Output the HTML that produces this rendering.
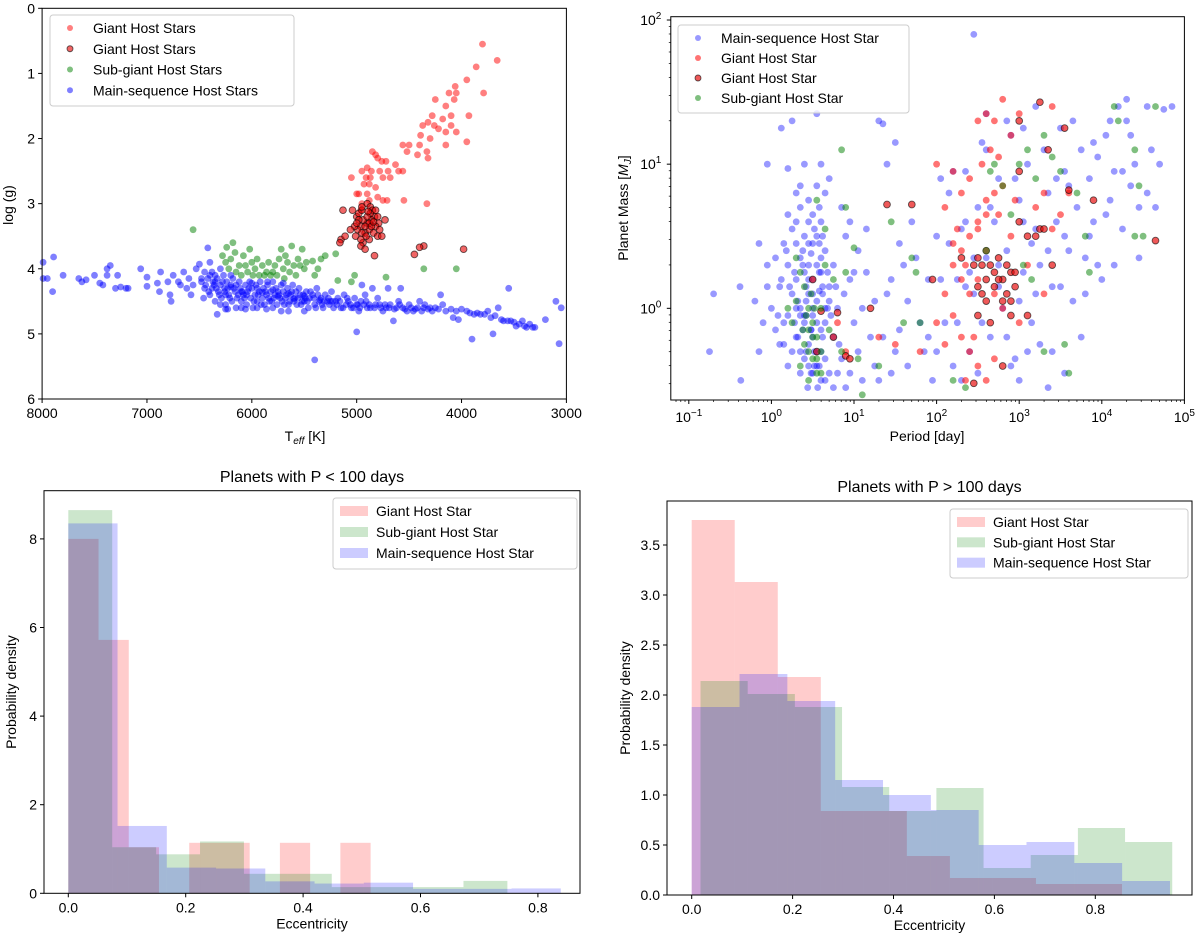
<!DOCTYPE html>
<html><head><meta charset="utf-8"><style>
html,body{margin:0;padding:0;background:#fff}
svg{display:block;font-family:"Liberation Sans","DejaVu Sans",sans-serif}
</style></head><body>
<svg id="fig" width="1200" height="943" viewBox="0 0 1200 943" xmlns="http://www.w3.org/2000/svg"></svg>
<script>
// ---------- Panel 1: HR diagram (Teff, logg) ----------
const p1RedTeff=[3800,3660,3860,3950,4060,4120,4050,4070,4250,3790,4150,4100,3930,4280,4320,4180,4100,4220,4260,4370,4150,4050,4300,4390,4400,3950,4500,4560,4150,4330,4420,4520,4320,4630,4760,4800,4720,4850,4820,4900,4860,4950,4780,4700,4560,4600,4910,4870,4750,4680,4930,4880,4820,5050,4980,5000,4900,4800,4750,4710,4950,4550,4330,4880,4960];
const p1RedLogg=[0.55,0.8,0.9,1.1,1.2,1.3,1.3,1.4,1.4,1.3,1.5,1.65,1.65,1.65,1.75,1.7,1.8,1.85,1.8,1.8,1.9,1.9,2.0,1.95,2.1,2.05,2.1,2.1,2.1,2.2,2.25,2.2,2.3,2.4,2.35,2.3,2.35,2.2,2.25,2.45,2.5,2.5,2.5,2.5,2.5,2.5,2.6,2.6,2.6,2.6,2.7,2.7,2.75,2.6,2.85,2.85,2.85,2.9,2.95,2.95,3.0,2.95,3.0,2.95,3.1];
const p1DarkTeff=[5130,5040,5000,4980,4950,4900,4870,4850,4830,4800,4790,4820,4860,4900,4940,4960,4990,5020,5060,5010,4920,4880,4840,4800,4760,4730,4940,4960,4920,5150,5110,5160,4880,4830,4450,4360,4400,3980,4950,4870,4900,4880,4920,4860,4840,4950,4980,4820,4780,4890,4960,5000,4910];
const p1DarkLogg=[3.1,3.1,3.2,3.15,3.1,3.0,3.05,3.1,3.2,3.2,3.3,3.35,3.25,3.3,3.25,3.35,3.4,3.35,3.4,3.5,3.45,3.4,3.45,3.5,3.5,3.25,3.6,3.65,3.7,3.55,3.5,3.6,3.55,3.8,3.78,3.65,3.67,3.7,3.05,3.15,3.2,3.3,3.35,3.35,3.28,3.45,3.25,3.1,3.4,3.12,3.55,3.3,3.5];
const p1GreenTeff=[6560,6280,6250,6240,6220,6200,6180,6160,6150,6120,6100,6080,6060,6040,6020,6000,5990,5970,5950,5930,5900,5880,5860,5840,5820,5800,5780,5760,5740,5720,5700,5690,5680,5660,5640,5620,5600,5580,5560,5540,5520,5500,5480,5420,5400,5370,5340,5300,5200,5180,5020,5050,4720,4360,4050];
const p1GreenLogg=[3.4,3.8,3.9,3.67,4.0,3.85,3.6,3.75,4.05,3.95,4.1,3.8,3.95,4.05,3.7,3.9,4.1,4.0,3.85,4.1,3.95,4.1,4.05,3.9,4.1,4.05,3.95,4.1,3.85,3.7,4.0,4.15,3.8,3.9,4.05,3.65,3.95,4.1,3.85,3.95,3.7,4.0,3.9,3.88,4.1,4.0,3.85,3.8,3.77,4.18,4.1,4.2,4.13,4.0,4.0];
const p1BlueTeff=[7990,7990,7950,7900,7890,7800,7650,7620,7580,7500,7450,7420,7380,7350,7380,7300,7280,7250,7200,7180,7060,7000,7000,6900,6870,6880,6800,6780,6770,6750,6700,6680,6650,6620,6600,6580,6560,6530,6500,6480,6460,6420,6400,6400,6380,6350,6330,6300,6300,6250,6230,6200,
6450,6450,6420,6400,6380,6360,6350,6330,6320,6300,6290,6270,6260,6250,6240,6220,6200,6190,6180,6160,6150,6140,6120,6110,6100,6080,6060,6050,6040,6020,6010,6000,5990,5970,5960,5950,5930,5920,5900,5890,5880,5860,5850,5830,5820,5800,5790,5770,5760,5740,5720,5710,5700,5680,5660,5650,5630,5610,5600,5580,5560,5550,5530,5510,5500,5480,5460,5450,5420,5400,5380,5360,5340,5320,5300,5280,5260,5240,5220,5200,5180,5150,5120,5100,5080,5050,5020,5000,4980,4960,4950,4920,4900,4880,4850,4830,4800,4780,4750,4720,4700,4680,4650,4620,4600,4580,4560,4520,4500,4460,4420,4400,4380,4350,4300,4280,4200,4180,4150,4100,4080,4050,4030,4000,3950,3920,3900,3880,3850,3820,3780,3750,3720,3700,3680,3650,3620,3600,3560,3550,3530,3500,3480,3450,3420,3400,3380,3350,3320,3300,3200,3100,3070,3050,5400,5000,5720,5860,6060,6250,
6100,5950,5800,5650,5500,6200,6050,5900,5750,5600,5350,5250,
6480,6440,6410,6370,6340,6310,6280,6260,6230,6210,6170,6130,6090,6070,6030,5980,5940,5910,5870,5840,5810,5780,5750,5730,5690,5670,5640,5620,5590,5570,5540,5520,5490,5470,5440,5410,5390,5370,5330,5310,5270,5230,5190,5160,5130,5090,5060,5030,4990,4970,4930,4910,4870,4820,4770,4730,4690,4640,4590,4540,4480,4440,4360,4320,4250,4220,6150,6000,5850,5700,6350,6100,5950,5800,5650,5500];
const p1BlueLogg=[3.9,4.15,4.15,4.35,3.82,4.1,4.15,4.2,4.17,4.1,4.22,4.25,4.0,3.95,4.1,4.3,4.1,4.28,4.3,4.3,4.0,4.13,4.27,4.22,4.05,4.35,4.2,4.4,4.5,4.1,4.2,4.25,4.05,4.3,4.15,4.4,4.25,4.0,3.93,4.2,4.45,3.68,3.9,4.1,4.3,4.2,4.7,4.55,4.0,4.4,4.62,4.1,
4.05,4.3,4.15,4.4,4.05,4.25,4.5,4.15,4.35,4.25,4.45,4.1,4.3,4.55,4.2,4.4,4.25,4.5,4.15,4.35,4.6,4.45,4.2,4.3,4.5,4.4,4.25,4.55,4.35,4.2,4.45,4.3,4.6,4.4,4.25,4.5,4.35,4.2,4.45,4.3,4.55,4.4,4.25,4.5,4.35,4.2,4.45,4.3,4.55,4.4,4.25,4.5,4.35,4.45,4.3,4.55,4.4,4.25,4.5,4.35,4.45,4.3,4.55,4.4,4.5,4.35,4.6,4.45,4.4,4.55,4.3,4.5,4.45,4.6,4.4,4.5,4.55,4.35,4.6,4.5,4.45,4.6,4.4,4.55,4.5,4.6,4.45,4.55,4.65,4.5,4.25,4.4,4.6,4.55,4.3,4.6,4.45,4.55,4.65,4.6,4.3,4.55,4.8,4.6,4.5,4.3,4.6,4.65,4.55,4.65,4.6,4.5,4.65,4.55,4.6,4.65,4.4,4.55,4.65,4.62,4.75,4.65,4.78,4.62,4.65,4.68,5.08,4.7,4.68,4.7,4.7,4.65,4.75,5.0,4.72,4.6,4.78,4.8,4.8,4.3,4.8,4.82,4.88,4.85,4.8,4.88,4.9,4.85,4.9,4.9,4.78,4.5,5.15,4.6,5.4,4.97,4.65,4.62,4.62,4.62,
4.35,4.3,4.32,4.38,4.42,4.28,4.4,4.36,4.42,4.46,4.48,4.5,
4.15,4.25,4.35,4.2,4.3,4.4,4.2,4.35,4.3,4.45,4.3,4.4,4.35,4.45,4.3,4.5,4.4,4.55,4.35,4.45,4.5,4.4,4.35,4.45,4.55,4.4,4.5,4.35,4.45,4.55,4.4,4.5,4.45,4.5,4.35,4.45,4.6,4.4,4.55,4.5,4.45,4.5,4.55,4.5,4.6,4.45,4.55,4.6,4.55,4.6,4.55,4.5,4.6,4.55,4.6,4.55,4.6,4.62,4.55,4.62,4.6,4.62,4.6,4.62,4.6,4.62,4.25,4.22,4.2,4.22,4.1,4.6,4.6,4.6,4.65,4.65];

// ---------- Panel 2: Period vs planet mass (log10 values) ----------
const p2BlueLogP=[0.3,0.35,0.4,0.45,0.5,0.55,0.6,0.65,0.7,0.4,0.5,0.55,0.6,0.7,0.45,0.35,0.25,0.2,0.3,0.45,0.5,0.6,0.65,0.55,0.4,0.3,0.2,0.1,0.15,0.25,0.35,0.75,0.8,0.85,0.75,0.6,0.5,0.45,0.55,0.35,0.25,0.15,0.05,0.0,-0.05,-0.1,0.1,0.2,0.65,0.75,0.9,0.95,1.0,0.9,0.85,0.7,0.6,0.4,0.2,-0.05,0.35,0.65,0.5,0.42,0.38,0.52,0.62,0.58,0.48,0.32,0.28,0.44,0.56,0.8,0.12,0.25,0.55,1.3,1.35,1.4,1.5,-0.7,-0.38,-0.75,-0.37,-0.15,-0.2,-0.05,0.95,1.05,1.15,1.1,1.2,1.05,1.25,1.3,1.45,1.4,1.5,1.55,1.6,1.7,1.75,1.8,1.65,1.85,1.9,
2.0,2.1,2.15,2.2,2.25,2.3,2.35,2.4,2.45,2.5,2.55,2.6,2.65,2.7,2.75,2.8,2.85,2.9,2.95,3.0,3.05,3.1,3.15,3.2,3.25,3.3,3.35,3.4,3.45,3.5,3.55,3.6,3.65,3.7,3.75,3.8,3.85,3.9,3.95,4.0,4.05,4.1,4.15,4.2,4.25,4.3,4.35,4.4,4.45,4.55,4.6,4.7,4.85,2.45,2.05,2.5,3.0,3.35,2.2,2.6,3.2,2.4,2.75,3.6,3.8,1.95,2.3,3.55,0.48,0.58,0.38,0.42,0.52,0.62,0.32,0.68,
0.3,0.35,0.4,0.45,0.5,0.55,0.6,0.65,0.4,0.45,0.5,0.55,0.6,0.65,0.38,0.42,0.48,0.52,0.58,0.62,0.68,0.72,0.28,0.22,0.18,0.12,0.08,0.3,0.35,0.45,0.55,0.5,0.42,0.48,0.58,0.62,0.7,0.78,0.82,0.88,0.95,1.0,1.1,1.15,1.25,1.35,1.45,1.55,1.65,1.9,0.2,0.3,0.45,0.58,0.15,0.05,-0.15,
2.05,2.15,2.25,2.35,2.45,2.55,2.65,2.75,2.85,2.95,3.05,3.15,3.25,3.35,3.45,3.55,3.65,3.75,3.85,3.95,4.05,4.15,4.25,4.35,4.45,4.55,4.65,3.0,3.1,2.9,3.2,3.4,2.6,2.85,3.05,3.5,3.9,4.1,4.3,4.75,2.0,2.35];
const p2BlueLogM=[0.2,0.0,-0.1,0.1,-0.2,0.05,-0.3,-0.1,0.15,-0.35,-0.45,-0.4,-0.5,-0.45,0.3,0.35,0.1,-0.05,-0.2,-0.25,0.2,0.25,0.4,0.5,0.5,0.45,0.3,0.15,-0.1,-0.3,-0.45,-0.2,0.0,-0.35,0.3,0.6,0.65,0.75,0.85,0.7,0.55,0.45,0.35,0.0,0.15,-0.1,-0.25,-0.4,-0.5,-0.55,-0.55,0.2,-0.1,0.5,0.7,0.9,1.0,1.0,0.97,1.0,0.85,0.8,-0.05,0.05,-0.15,-0.3,-0.2,0.12,0.38,0.05,-0.1,-0.55,-0.55,-0.45,1.25,1.3,1.35,1.3,1.28,1.0,1.15,0.1,0.15,-0.3,-0.5,-0.3,0.05,0.3,0.6,0.4,0.25,0.0,-0.2,-0.3,-0.4,-0.5,-0.45,0.1,-0.3,-0.15,0.3,0.6,0.35,-0.1,-0.4,-0.3,0.2,
0.5,-0.1,0.8,-0.4,0.2,0.55,0.95,-0.3,0.1,0.7,1.15,0.35,-0.2,0.6,0.9,0.0,0.4,1.2,-0.35,0.75,0.25,1.0,-0.1,0.55,0.3,1.1,0.8,-0.3,0.6,0.15,0.95,0.4,1.3,0.7,-0.2,0.35,0.9,0.6,1.05,0.2,1.2,0.75,0.95,1.4,0.55,1.3,0.85,1.0,0.7,1.4,1.1,1.0,1.4,1.9,0.9,-0.45,-0.5,-0.55,0.95,1.1,1.4,0.25,0.3,0.85,0.1,-0.5,-0.5,-0.45,-0.15,0.25,0.3,-0.05,-0.4,0.1,-0.2,0.0,
0.0,-0.3,0.25,-0.4,0.45,-0.1,0.35,0.0,-0.05,0.2,0.1,0.3,-0.15,-0.35,0.4,-0.3,-0.15,0.55,0.45,0.15,0.25,-0.05,0.25,0.15,0.4,0.2,-0.05,0.6,-0.05,0.6,-0.3,0.0,0.15,-0.45,-0.4,0.5,0.05,0.15,-0.25,0.1,-0.45,0.25,-0.5,0.55,0.05,-0.2,0.2,0.45,0.05,-0.2,0.65,0.8,0.45,0.7,-0.25,-0.15,0.45,
0.2,0.45,-0.1,0.6,0.35,-0.1,0.7,0.15,-0.2,0.9,0.6,0.45,-0.25,0.4,0.9,0.5,0.05,1.1,0.5,0.3,0.65,0.3,0.95,1.2,0.35,0.8,0.7,0.05,-0.3,-0.4,0.1,0.15,1.35,1.3,1.25,1.25,1.15,1.3,1.45,1.38,-0.3,0.15];
const p2RedLogP=[2.0,2.2,2.3,2.1,2.4,2.5,2.6,2.7,2.8,2.9,3.0,3.4,2.5,2.6,2.7,2.8,2.9,2.75,2.95,3.2,3.3,2.3,2.35,2.25,2.2,2.4,2.6,2.3,2.2,2.5,2.65,2.55,2.75,2.7,2.8,2.2,2.3,2.4,2.5,2.45,2.6,2.7,3.0,3.1,3.3,2.4,2.5,2.1,1.3,1.5,0.8,0.9,2.0,2.1,2.35,3.6,3.4,3.5,1.8];
const p2RedLogM=[1.0,0.95,0.8,0.7,0.9,1.3,1.35,1.3,1.45,1.2,1.35,1.4,0.6,0.75,0.8,0.85,0.5,0.65,0.75,0.7,0.8,0.4,0.3,0.55,0.45,0.5,0.65,0.2,0.3,0.55,1.1,1.0,1.05,0.1,0.0,-0.05,-0.2,-0.3,-0.4,-0.2,-0.5,-0.35,-0.1,0.3,0.1,0.1,0.2,0.1,-0.2,-0.25,-0.1,-0.3,-0.1,-0.25,-0.5,0.8,0.55,0.65,-0.3];
const p2DarkLogP=[2.5,2.55,2.6,2.65,2.7,2.75,2.8,2.85,2.9,2.95,2.55,2.6,2.7,2.8,2.9,2.5,2.6,2.75,2.85,2.95,2.5,2.65,2.9,3.1,2.45,2.3,3.0,3.25,3.3,3.1,3.2,3.0,3.0,3.25,3.55,3.35,3.6,3.9,4.65,3.4,1.4,1.7,0.5,1.95,0.6,0.8,1.2,0.9,0.95,0.55,0.75,2.45,2.8];
const p2DarkLogM=[0.35,0.3,0.2,0.3,0.25,0.35,0.2,0.3,0.25,0.15,0.1,0.05,0.15,0.05,0.05,0.15,0.4,0.2,0.1,0.25,-0.05,-0.1,-0.05,-0.05,0.3,0.35,0.6,0.55,0.55,0.5,0.5,0.95,1.3,1.43,1.25,1.1,0.82,0.75,0.47,0.3,0.72,0.72,0.2,0.2,-0.02,-0.03,0.0,-0.33,-0.35,-0.3,-0.2,-0.52,-0.4];
const p2GreenLogP=[0.3,0.35,0.4,0.45,0.5,0.55,0.45,0.4,0.6,0.5,0.55,0.45,0.35,0.25,0.3,0.2,0.6,0.7,0.65,0.55,0.65,0.9,0.85,1.0,0.9,1.05,1.1,1.3,1.6,1.7,1.75,1.8,2.2,2.35,2.6,2.65,2.7,2.8,3.0,3.1,3.2,3.3,3.4,3.5,3.7,3.8,4.15,4.2,4.4,4.45,4.65,4.4,4.5,2.9,3.05,3.15,3.3,3.6,3.55,3.85,1.45,0.85,0.75,0.42,0.5,0.48,0.55,0.38,0.6,0.45,0.52];
const p2GreenLogM=[0.35,0.25,0.15,0.0,-0.1,-0.2,-0.15,-0.25,-0.3,-0.35,-0.45,-0.5,-0.4,-0.1,0.05,0.0,0.0,-0.15,0.3,0.75,0.55,0.7,1.1,0.42,0.25,-0.35,-0.6,-0.4,-0.1,0.35,0.25,-0.1,-0.5,-0.55,0.4,0.95,1.0,0.85,1.0,1.1,0.9,1.2,1.05,0.95,0.8,0.5,1.4,1.3,1.1,0.85,1.4,0.5,0.5,0.65,0.3,0.2,-0.3,-0.45,-0.25,0.25,0.6,-0.3,0.2,-0.05,-0.2,0.1,-0.35,-0.15,-0.45,-0.3,0.0];

// ---------- Panel 3: eccentricity histogram, P < 100 d ----------
const h3RedStart=0, h3RedWidth=0.0515;
const h3Red=[8.0,5.72,1.04,0,1.14,1.14,0,1.14,0,1.14];
const h3GreenStart=0, h3GreenWidth=0.0748;
const h3Green=[8.65,1.04,0.88,1.17,0.44,0.44,0.14,0.14,0.14,0.28];
const h3BlueStart=0, h3BlueWidth=0.0839;
const h3Blue=[8.35,1.52,0.58,0.56,0.27,0.22,0.24,0.1,0.1,0.11];
const h3XTicks=[0.0,0.2,0.4,0.6,0.8];
const h3YTicks=[0,2,4,6,8];

// ---------- Panel 4: eccentricity histogram, P > 100 d ----------
const h4RedStart=0, h4RedWidth=0.0853;
const h4Red=[3.75,3.13,2.18,0.84,0.84,0.39,0.17,0.17,0.11,0.11];
const h4GreenStart=0.0175, h4GreenWidth=0.0935;
const h4Green=[2.14,2.01,1.88,1.08,0.84,1.07,0.27,0.40,0.67,0.53];
const h4BlueStart=0, h4BlueWidth=0.0948;
const h4Blue=[1.88,2.21,1.94,1.15,1.0,0.85,0.5,0.53,0.32,0.14];
const h4XTicks=[0.0,0.2,0.4,0.6,0.8];
const h4YTicks=[0.0,0.5,1.0,1.5,2.0,2.5,3.0,3.5];

const NS='http://www.w3.org/2000/svg';
const svg=document.getElementById('fig');
function mk(tag,attrs,parent){const e=document.createElementNS(NS,tag);for(const k in attrs)e.setAttribute(k,attrs[k]);(parent||svg).appendChild(e);return e;}
function txt(s,x,y,size,anchor,parent,rot){const t=mk('text',{x:x,y:y,'font-size':size,'text-anchor':anchor||'middle',fill:'#000'},parent);if(rot)t.setAttribute('transform','rotate(-90 '+x+' '+y+')');t.textContent=s;return t;}

// ===== Panel 1 =====
const A1={l:42.1,r:566.4,t:8.3,b:399};
const x1=v=>A1.l+(8000-v)/5000*(A1.r-A1.l);
const y1=v=>A1.t+v/6*(A1.b-A1.t);
const g1=mk('g',{});


function scat(g,xs,ys,fx,fy,fill,stroke,name){const gg=mk('g',{},g);
 for(let i=0;i<xs.length;i++){const c=mk('circle',{cx:fx(xs[i]).toFixed(1),cy:fy(ys[i]).toFixed(1),r:3.4,fill:fill,stroke:stroke||'none','stroke-width':stroke?0.9:0},gg);
 
 }}
scat(g1,p1RedTeff,p1RedLogg,x1,y1,'rgba(255,0,0,0.5)',null,'giant-series');
scat(g1,p1DarkTeff,p1DarkLogg,x1,y1,'rgba(230,0,0,0.6)','rgba(0,0,0,0.6)','giant-edge-series');
scat(g1,p1GreenTeff,p1GreenLogg,x1,y1,'rgba(0,128,0,0.5)',null,'subgiant-series');
scat(g1,p1BlueTeff,p1BlueLogg,x1,y1,'rgba(0,0,255,0.5)',null,'main-sequence-series');
mk('rect',{x:A1.l,y:A1.t,width:A1.r-A1.l,height:A1.b-A1.t,fill:'none',stroke:'#000','stroke-width':1},g1);
[8000,7000,6000,5000,4000,3000].forEach(v=>{mk('line',{x1:x1(v),x2:x1(v),y1:A1.b,y2:A1.b+4,stroke:'#000'},g1);txt(String(v),x1(v),A1.b+19,14,'middle',g1);});
[0,1,2,3,4,5,6].forEach(v=>{mk('line',{x1:A1.l-4,x2:A1.l,y1:y1(v),y2:y1(v),stroke:'#000'},g1);txt(String(v),A1.l-7,y1(v)+5,14,'end',g1);});
const xl1=mk('text',{x:305,y:441,'font-size':14,'text-anchor':'middle'},g1);xl1.innerHTML='T<tspan font-size="10" font-style="italic" dy="3">eff</tspan><tspan dy="-3"> [K]</tspan>';

txt('log (g)',13,205,14,'middle',g1,true);
function legend(g,x,y,w,h,items,name){const lg=mk('g',{},g);
 mk('rect',{x:x,y:y,width:w,height:h,rx:3,fill:'rgba(255,255,255,0.8)',stroke:'#ccc'},lg);
 items.forEach((it,i)=>{const cy=y+13+i*(h-8)/items.length;
  if(it.kind==='patch')mk('rect',{x:x+7,y:cy-5,width:28,height:10,fill:it.fill},lg);
  else mk('circle',{cx:x+20,cy:cy,r:3,fill:it.fill,stroke:it.stroke||'none','stroke-width':0.9},lg);
  txt(it.label,x+43,cy+5,14,'start',lg);});}
legend(g1,50,15,244,91,[{label:'Giant Host Stars',fill:'rgba(255,0,0,0.5)'},{label:'Giant Host Stars',fill:'rgba(230,0,0,0.6)',stroke:'rgba(0,0,0,0.6)'},{label:'Sub-giant Host Stars',fill:'rgba(0,128,0,0.5)'},{label:'Main-sequence Host Stars',fill:'rgba(0,0,255,0.5)'}],'legend-hr');

// ===== Panel 2 =====
const A2={l:670.8,r:1184.4,t:16.7,b:400};
const X2MIN=-1.218,X2MAX=5,Y2MIN=-0.636,Y2MAX=2.023;
const x2=v=>A2.l+(v-X2MIN)/(X2MAX-X2MIN)*(A2.r-A2.l);
const y2=v=>A2.b-(v-Y2MIN)/(Y2MAX-Y2MIN)*(A2.b-A2.t);
const g2=mk('g',{});


scat(g2,p2BlueLogP,p2BlueLogM,x2,y2,'rgba(0,0,255,0.4)',null,'main-sequence-series');
scat(g2,p2RedLogP,p2RedLogM,x2,y2,'rgba(255,0,0,0.55)',null,'giant-series');
scat(g2,p2DarkLogP,p2DarkLogM,x2,y2,'rgba(230,0,0,0.65)','rgba(0,0,0,0.6)','giant-edge-series');
scat(g2,p2GreenLogP,p2GreenLogM,x2,y2,'rgba(0,128,0,0.5)',null,'subgiant-series');
mk('rect',{x:A2.l,y:A2.t,width:A2.r-A2.l,height:A2.b-A2.t,fill:'none',stroke:'#000'},g2);
for(let d=-2;d<=5;d++){for(let m=1;m<10;m++){const v=d+Math.log10(m);if(v<X2MIN||v>X2MAX)continue;const big=m===1;
 mk('line',{x1:x2(v),x2:x2(v),y1:A2.b,y2:A2.b+(big?4:2),stroke:'#000','stroke-width':big?1:0.7},g2);
 if(big){const t=mk('text',{x:x2(v),y:A2.b+22,'font-size':14,'text-anchor':'middle'},g2);t.innerHTML='10<tspan font-size="10" dy="-6">'+(d<0?'\u2212'+(-d):d)+'</tspan>';}}}
for(let d=-1;d<=2;d++){for(let m=1;m<10;m++){const v=d+Math.log10(m);if(v<Y2MIN||v>Y2MAX+0.001)continue;const big=m===1;
 mk('line',{x1:A2.l-(big?4:2),x2:A2.l,y1:y2(v),y2:y2(v),stroke:'#000','stroke-width':big?1:0.7},g2);
 if(big){const t=mk('text',{x:A2.l-20,y:y2(v)+5,'font-size':14,'text-anchor':'middle'},g2);t.innerHTML='10<tspan font-size="10" dy="-6">'+d+'</tspan>';}}}
txt('Period [day]',927,441,14,'middle',g2);
const yl2=mk('text',{x:628,y:208,'font-size':14,'text-anchor':'middle',transform:'rotate(-90 628 208)'},g2);yl2.innerHTML='Planet Mass [<tspan font-style="italic">M</tspan><tspan font-size="10" font-style="italic" dy="3">J</tspan><tspan dy="-3">]</tspan>';

legend(g2,678,25,231,88,[{label:'Main-sequence Host Star',fill:'rgba(0,0,255,0.4)'},{label:'Giant Host Star',fill:'rgba(255,0,0,0.55)'},{label:'Giant Host Star',fill:'rgba(230,0,0,0.65)',stroke:'rgba(0,0,0,0.6)'},{label:'Sub-giant Host Star',fill:'rgba(0,128,0,0.5)'}],'legend-period-mass');

// ===== Histograms =====
function histPanel(A,xmin,xmax,ymax,series,xt,yt,ydec,title,tY,legBox,name){
 const g=mk('g',{});
 const fx=v=>A.l+(v-xmin)/(xmax-xmin)*(A.r-A.l);
 const fy=v=>A.b-v/ymax*(A.b-A.t);
 series.forEach(s=>{const sg=mk('g',{},g);
  s.vals.forEach((v,i)=>{if(v<=0)return;const xa=fx(s.start+i*s.w),xb=fx(s.start+(i+1)*s.w);
   const r=mk('rect',{x:xa.toFixed(2),y:fy(v).toFixed(2),width:(xb-xa).toFixed(2),height:(A.b-fy(v)).toFixed(2),fill:s.fill},sg);
   
   });});
 mk('rect',{x:A.l,y:A.t,width:A.r-A.l,height:A.b-A.t,fill:'none',stroke:'#000'},g);
 xt.forEach(v=>{mk('line',{x1:fx(v),x2:fx(v),y1:A.b,y2:A.b+4,stroke:'#000'},g);txt(v.toFixed(1),fx(v),A.b+19,14,'middle',g);});
 yt.forEach(v=>{mk('line',{x1:A.l-4,x2:A.l,y1:fy(v),y2:fy(v),stroke:'#000'},g);txt(v.toFixed(ydec),A.l-7,fy(v)+5,14,'end',g);});
 txt('Eccentricity',(A.l+A.r)/2,A.b+35,14,'middle',g);
 txt('Probability density',A.l-(ydec?37:28),(A.t+A.b)/2,14,'middle',g,true);
 txt(title,(A.l+A.r)/2,tY,16,'middle',g);
 legend(g,legBox[0],legBox[1],legBox[2],legBox[3],[{kind:'patch',label:'Giant Host Star',fill:'rgba(255,0,0,0.2)'},{kind:'patch',label:'Sub-giant Host Star',fill:'rgba(0,128,0,0.2)'},{kind:'patch',label:'Main-sequence Host Star',fill:'rgba(0,0,255,0.2)'}],name+'-legend');
}
histPanel({l:44,r:580,t:490.7,b:893.3},(44-68.3)/587,(580-68.3)/587,(893.3-490.7)/44.3,
 [{name:'giant-hist',vals:h3Red,start:h3RedStart,w:h3RedWidth,fill:'rgba(255,0,0,0.2)'},
  {name:'subgiant-hist',vals:h3Green,start:h3GreenStart,w:h3GreenWidth,fill:'rgba(0,128,0,0.2)'},
  {name:'main-sequence-hist',vals:h3Blue,start:h3BlueStart,w:h3BlueWidth,fill:'rgba(0,0,255,0.2)'}],
 h3XTicks,h3YTicks,0,'Planets with P < 100 days',482,[333,498,244,71],'hist-short-period');
histPanel({l:667,r:1192,t:501,b:895},(667-691.7)/504.5,(1192-691.7)/504.5,(895-501)/100,
 [{name:'giant-hist',vals:h4Red,start:h4RedStart,w:h4RedWidth,fill:'rgba(255,0,0,0.2)'},
  {name:'subgiant-hist',vals:h4Green,start:h4GreenStart,w:h4GreenWidth,fill:'rgba(0,128,0,0.2)'},
  {name:'main-sequence-hist',vals:h4Blue,start:h4BlueStart,w:h4BlueWidth,fill:'rgba(0,0,255,0.2)'}],
 h4XTicks,h4YTicks,1,'Planets with P > 100 days',492,[950,509,238,69],'hist-long-period');
</script>
</body></html>
